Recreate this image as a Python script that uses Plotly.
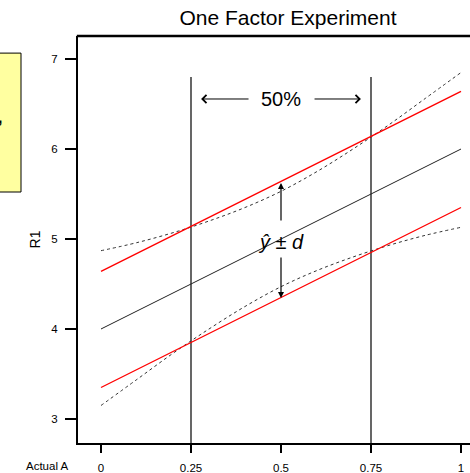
import plotly.graph_objects as go

# ---- data ----
x_line = [0.0, 1.0]
center = [4.0, 6.0]
upper_red = [4.64, 6.64]
lower_red = [3.35, 5.35]

x_band = [0.0, 0.1, 0.2, 0.3, 0.4, 0.5, 0.6, 0.7, 0.8, 0.9, 1.0]
upper_band = [4.87, 4.96, 5.07, 5.20, 5.35, 5.53, 5.75, 6.00, 6.27, 6.56, 6.85]
lower_band = [3.15, 3.44, 3.73, 4.00, 4.25, 4.47, 4.65, 4.80, 4.93, 5.04, 5.13]

x_guides = [0.25, 0.75]
guide_top = 6.8

x_tickvals = [0, 0.25, 0.5, 0.75, 1]
x_ticktext = ["0", "0.25", "0.5", "0.75", "1"]
y_tickvals = [3, 4, 5, 6, 7]
y_ticktext = ["3", "4", "5", "6", "7"]

x_range = [-0.0639, 1.025]
y_range = [2.733, 7.256]

FONT = "Arial, 'Liberation Sans', sans-serif"
W, H = 470, 473

fig = go.Figure()

for xg in x_guides:
    fig.add_trace(go.Scatter(x=[xg, xg], y=[y_range[0], guide_top], mode="lines",
                             line=dict(color="black", width=1.2), hoverinfo="skip"))

fig.add_trace(go.Scatter(x=x_band, y=upper_band, mode="lines", line_shape="spline",
                         line=dict(color="#333333", width=1, dash="dot")))
fig.add_trace(go.Scatter(x=x_band, y=lower_band, mode="lines", line_shape="spline",
                         line=dict(color="#333333", width=1, dash="dot")))
fig.add_trace(go.Scatter(x=x_line, y=center, mode="lines",
                         line=dict(color="#222222", width=1)))
fig.add_trace(go.Scatter(x=x_line, y=upper_red, mode="lines",
                         line=dict(color="#ff0000", width=1.3)))
fig.add_trace(go.Scatter(x=x_line, y=lower_red, mode="lines",
                         line=dict(color="#ff0000", width=1.3)))

annotations = [
    # 50% with arrows
    dict(x=0.5, y=6.556, xref="x", yref="y", text="50%", showarrow=False,
         font=dict(size=20, color="black", family=FONT)),
    dict(x=0.278, y=6.556, ax=0.414, ay=6.556, xref="x", yref="y", axref="x", ayref="y",
         text="", showarrow=True, arrowhead=4, arrowsize=1.6, arrowwidth=1, arrowcolor="black"),
    dict(x=0.722, y=6.556, ax=0.589, ay=6.556, xref="x", yref="y", axref="x", ayref="y",
         text="", showarrow=True, arrowhead=4, arrowsize=1.6, arrowwidth=1, arrowcolor="black"),
    # y-hat ± d
    dict(x=0.5, y=4.967, xref="x", yref="y", text="<i>ŷ</i> ± <i>d</i>", showarrow=False,
         font=dict(size=20, color="black", family=FONT)),
    dict(x=0.5, y=5.622, ax=0.5, ay=5.189, xref="x", yref="y", axref="x", ayref="y",
         text="", showarrow=True, arrowhead=2, arrowsize=1, arrowwidth=1.2, arrowcolor="black"),
    dict(x=0.5, y=4.344, ax=0.5, ay=4.811, xref="x", yref="y", axref="x", ayref="y",
         text="", showarrow=True, arrowhead=2, arrowsize=1, arrowwidth=1.2, arrowcolor="black"),
    # axis labels
    dict(x=-0.079, y=-0.057, xref="paper", yref="paper", text="Actual A", showarrow=False,
         xanchor="center", yanchor="middle", font=dict(size=11.5, color="black", family=FONT)),
    dict(x=-0.110, y=0.5, xref="paper", yref="paper", text="R1", showarrow=False,
         textangle=-90, xanchor="center", yanchor="middle",
         font=dict(size=14, color="black", family=FONT)),
    # clipped comma in yellow box
    dict(x=-0.189, y=0.80, xref="paper", yref="paper", text="<b>,</b>", showarrow=False,
         xanchor="right", yanchor="middle", font=dict(size=16, color="black", family=FONT)),
]

shapes = [
    dict(type="line", xref="paper", yref="paper", x0=-0.003, x1=1.0, y0=1.0, y1=1.0,
         line=dict(color="black", width=2.5), layer="above"),
    dict(type="rect", xref="paper", yref="paper", x0=-0.25, x1=-0.1454, y0=0.6167, y1=0.958,
         fillcolor="#ffffa0", line=dict(color="black", width=1), layer="below"),
]

fig.update_layout(
    width=W, height=H, autosize=False,
    margin=dict(l=78, r=0, t=36, b=30, autoexpand=False),
    paper_bgcolor="white", plot_bgcolor="white",
    showlegend=False,
    font=dict(family=FONT, color="black"),
    title=dict(text="One Factor Experiment", xref="paper", x=0.5357, xanchor="center",
               yref="container", y=1 - 18 / H, yanchor="middle",
               font=dict(size=21, color="black", family=FONT)),
    xaxis=dict(range=x_range, tickvals=x_tickvals, ticktext=x_ticktext,
               ticks="outside", ticklen=8, tickwidth=2, tickcolor="black",
               showline=True, linewidth=2, linecolor="black", mirror=False,
               showgrid=False, zeroline=False, ticklabelstandoff=5, automargin=False,
               tickfont=dict(size=11.5, color="black", family=FONT)),
    yaxis=dict(range=y_range, tickvals=y_tickvals, ticktext=y_ticktext,
               ticks="outside", ticklen=11, tickwidth=2, tickcolor="black",
               showline=True, linewidth=2, linecolor="black", mirror=False,
               showgrid=False, zeroline=False, ticklabelstandoff=5, automargin=False,
               tickfont=dict(size=11.5, color="black", family=FONT)),
    annotations=annotations,
    shapes=shapes,
)

fig.write_html("out.html",
               config={"displayModeBar": False, "staticPlot": True},
               post_script="document.body.style.margin='0';document.body.style.overflow='hidden';")
